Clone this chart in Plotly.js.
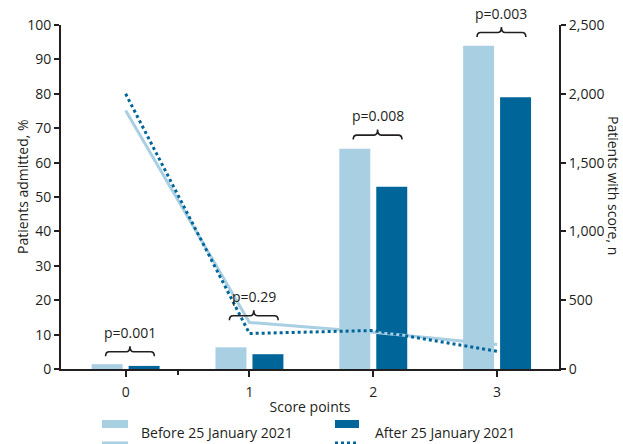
<!DOCTYPE html>
<html><head><meta charset="utf-8">
<script src="https://cdn.plot.ly/plotly-3.0.1.min.js"></script>
<style>html,body{margin:0;padding:0;background:#fff}#chart{width:623px;height:444px}</style>
</head><body><div id="chart"></div>
<script>
// ---- data ----
const categories = [0, 1, 2, 3];
const tickLabels = ['0', '1', '2', '3'];
const seriesNames = ['Before 25 January 2021', 'After 25 January 2021'];
const admittedBefore = [1.4, 6.3, 64, 94];       // % (left axis)
const admittedAfter = [0.9, 4.3, 53, 79];        // % (left axis)
const withScoreBefore = [1878, 338, 267, 178];   // n (right axis)
const withScoreAfter = [2000, 258, 280, 129];    // n (right axis)
const pLabels = ['p=0.001', 'p=0.29', 'p=0.008', 'p=0.003'];
const bracketLevel = [5, 15.5, 68, 97.8];        // % level of brace
const leftTitle = 'Patients admitted, %';
const rightTitle = 'Patients with score, n';
const xTitle = 'Score points';

// ---- layout helpers ----
const W = 623, H = 444, L = 61, R = 559, T = 25, B = 369;
const px2x = x => (x - L) / (R - L);
const px2y = y => (B - y) / (B - T);
const light = '#a9cfe3', dark = '#006699', ink = '#231f20';
const fam = '"Open Sans", "Noto Sans", sans-serif';

const traces = [
  {type: 'bar', x: categories, y: admittedBefore, name: seriesNames[0],
   marker: {color: light}, showlegend: false, hoverinfo: 'skip'},
  {type: 'bar', x: categories, y: admittedAfter, name: seriesNames[1],
   marker: {color: dark}, showlegend: false, hoverinfo: 'skip'},
  {type: 'scatter', mode: 'lines', x: categories, y: withScoreBefore, yaxis: 'y2',
   name: seriesNames[0], line: {color: light, width: 3}, showlegend: false},
  {type: 'scatter', mode: 'lines', x: categories, y: withScoreAfter, yaxis: 'y2',
   name: seriesNames[1], line: {color: dark, width: 3, dash: 'dot'}, showlegend: false}
];

const shapes = [];
const annotations = [];
const bxOff = 0.035, bHalf = 0.197, dDown = 1.3, dUp = 1.6, cr = 0.03;
categories.forEach((c, i) => {
  const h = bracketLevel[i];
  const x0 = c + bxOff - bHalf, x1 = c + bxOff + bHalf, xm = c + bxOff;
  shapes.push({type: 'path', xref: 'x', yref: 'y', layer: 'above',
    path: `M ${x0},${h - dDown} Q ${x0},${h} ${x0 + cr},${h} L ${xm - cr},${h} Q ${xm},${h} ${xm},${h + dUp} Q ${xm},${h} ${xm + cr},${h} L ${x1 - cr},${h} Q ${x1},${h} ${x1},${h - dDown}`,
    line: {color: ink, width: 1.6}});
  annotations.push({x: xm, y: h, xref: 'x', yref: 'y', text: pLabels[i], showarrow: false,
    yanchor: 'bottom', yshift: 8, font: {family: fam, size: 14, color: ink}});
});

// extra x-axis tick mark between 0 and 1
shapes.push({type: 'line', xref: 'paper', yref: 'paper', x0: px2x(178), x1: px2x(178),
  y0: 0, y1: px2y(B + 6), line: {color: ink, width: 2}});

// axis titles
annotations.push({xref: 'paper', yref: 'paper', x: px2x(23), y: px2y(187), text: leftTitle,
  textangle: -90, showarrow: false, xanchor: 'center', yanchor: 'middle',
  font: {family: fam, size: 14, color: ink}});
annotations.push({xref: 'paper', yref: 'paper', x: px2x(614), y: px2y(185), text: rightTitle,
  textangle: 90, showarrow: false, xanchor: 'center', yanchor: 'middle',
  font: {family: fam, size: 14, color: ink}});

// legend (bar swatch above line swatch, label beside)
const legendCols = [
  {x0: 102, x1: 128, tx: 139, color: light, dash: 'solid', name: seriesNames[0]},
  {x0: 335, x1: 359, tx: 372.7, color: dark, dash: 'dot', name: seriesNames[1]}
];
legendCols.forEach(col => {
  shapes.push({type: 'rect', xref: 'paper', yref: 'paper', x0: px2x(col.x0), x1: px2x(col.x1),
    y0: px2y(420), y1: px2y(428), fillcolor: col.color, line: {width: 0}});
  shapes.push({type: 'line', xref: 'paper', yref: 'paper', x0: px2x(col.x0), x1: px2x(col.x1),
    y0: px2y(443), y1: px2y(443), line: {color: col.color, width: 3, dash: col.dash}});
  annotations.push({xref: 'paper', yref: 'paper', x: px2x(col.tx), y: px2y(432), text: col.name,
    showarrow: false, xanchor: 'left', yanchor: 'middle', font: {family: fam, size: 14, color: ink}});
});

const layout = {
  width: W, height: H,
  margin: {l: L, r: W - R, t: T, b: H - B, pad: 0},
  paper_bgcolor: '#fff', plot_bgcolor: '#fff',
  font: {family: fam, size: 14, color: ink},
  barmode: 'group', bargap: 0.403, bargroupgap: 0.162,
  showlegend: false,
  xaxis: {range: [-0.522, 3.5], tickvals: categories, ticktext: tickLabels,
    showgrid: false, zeroline: false, showline: true, linecolor: ink, linewidth: 2,
    ticks: 'outside', ticklen: 6, tickwidth: 2, tickcolor: ink, ticklabelstandoff: 3,
    title: {text: xTitle, standoff: 2, font: {family: fam, size: 14, color: ink}},
    tickfont: {family: fam, size: 14, color: ink}},
  yaxis: {range: [0, 100], dtick: 10, showgrid: false, zeroline: false, showline: true,
    linecolor: ink, linewidth: 2, ticks: 'outside', ticklen: 5, tickwidth: 2, tickcolor: ink,
    tickfont: {family: fam, size: 14, color: ink}},
  yaxis2: {range: [0, 2500], dtick: 500, tickformat: ',d', overlaying: 'y', side: 'right',
    showgrid: false, zeroline: false, showline: true, linecolor: ink, linewidth: 2,
    ticks: 'outside', ticklen: 5, tickwidth: 2, tickcolor: ink,
    tickfont: {family: fam, size: 14, color: ink}},
  shapes: shapes,
  annotations: annotations
};

Plotly.newPlot('chart', traces, layout, {displayModeBar: false, staticPlot: true});
</script></body></html>
